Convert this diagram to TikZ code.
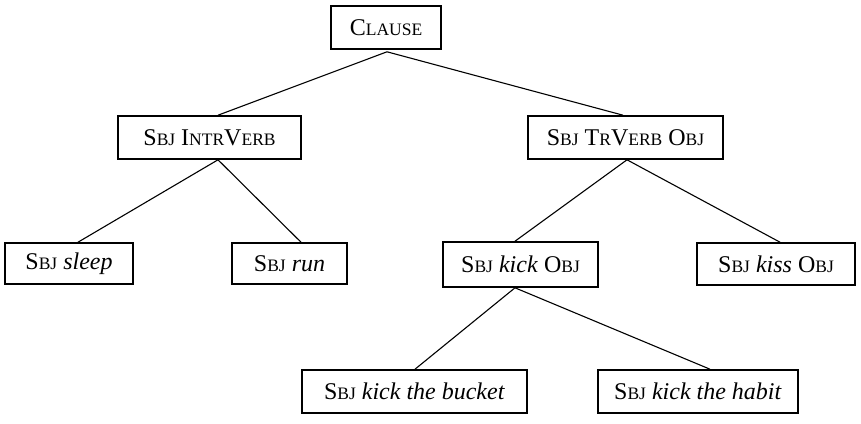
\documentclass[tikz,border=0pt]{standalone}
\usepackage{fontspec}
\setmainfont{Liberation Serif}
\newcommand{\smc}[1]{{\fontsize{17.5}{21}\selectfont #1}}
\tikzset{
  box/.style={draw, line width=1.6pt, inner sep=0pt, anchor=center,
    font=\fontsize{24}{29}\selectfont},
  conn/.style={line width=1.1pt}
}
\begin{document}
\begin{tikzpicture}[x=1pt,y=-1pt]
\useasboundingbox (0,0) rectangle (861,423);
\node[box, minimum width=110pt, minimum height=43pt] (clause) at (386,27.5) {C\smc{LAUSE}};
\node[box, minimum width=183pt, minimum height=43pt] (intr) at (209.5,137.5) {S\smc{BJ} I\smc{NTR}V\smc{ERB}};
\node[box, minimum width=195pt, minimum height=43pt] (tr) at (625.5,137.5) {S\smc{BJ} T\smc{R}V\smc{ERB} O\smc{BJ}};
\node[box, minimum width=128pt, minimum height=41pt] (sleep) at (69,263.5) {S\smc{BJ} \textit{sleep}};
\node[box, minimum width=115pt, minimum height=41pt] (run) at (289.5,263.5) {S\smc{BJ} \textit{run}};
\node[box, minimum width=155pt, minimum height=45pt] (kick) at (520.5,264.5) {S\smc{BJ} \textit{kick} O\smc{BJ}};
\node[box, minimum width=158pt, minimum height=42pt] (kiss) at (776,264) {S\smc{BJ} \textit{kiss} O\smc{BJ}};
\node[box, minimum width=225pt, minimum height=43pt] (bucket) at (414.5,391.5) {S\smc{BJ} \textit{kick the bucket}};
\node[box, minimum width=200pt, minimum height=43pt] (habit) at (698,391.5) {S\smc{BJ} \textit{kick the habit}};

\draw[conn] ([xshift=1pt,yshift=-2pt]clause.south) -- ([xshift=8.5pt]intr.north);
\draw[conn] ([xshift=1pt,yshift=-2pt]clause.south) -- ([xshift=-2.5pt]tr.north);
\draw[conn] ([xshift=8.5pt]intr.south) -- ([xshift=9pt]sleep.north);
\draw[conn] ([xshift=8.5pt]intr.south) -- ([xshift=11.5pt]run.north);
\draw[conn] ([xshift=1.5pt]tr.south) -- ([xshift=-5.5pt]kick.north);
\draw[conn] ([xshift=1.5pt]tr.south) -- ([xshift=4pt]kiss.north);
\draw[conn] ([xshift=-5.5pt]kick.south) -- ([xshift=0.5pt]bucket.north);
\draw[conn] ([xshift=-5.5pt]kick.south) -- ([xshift=12pt]habit.north);
\end{tikzpicture}
\end{document}
